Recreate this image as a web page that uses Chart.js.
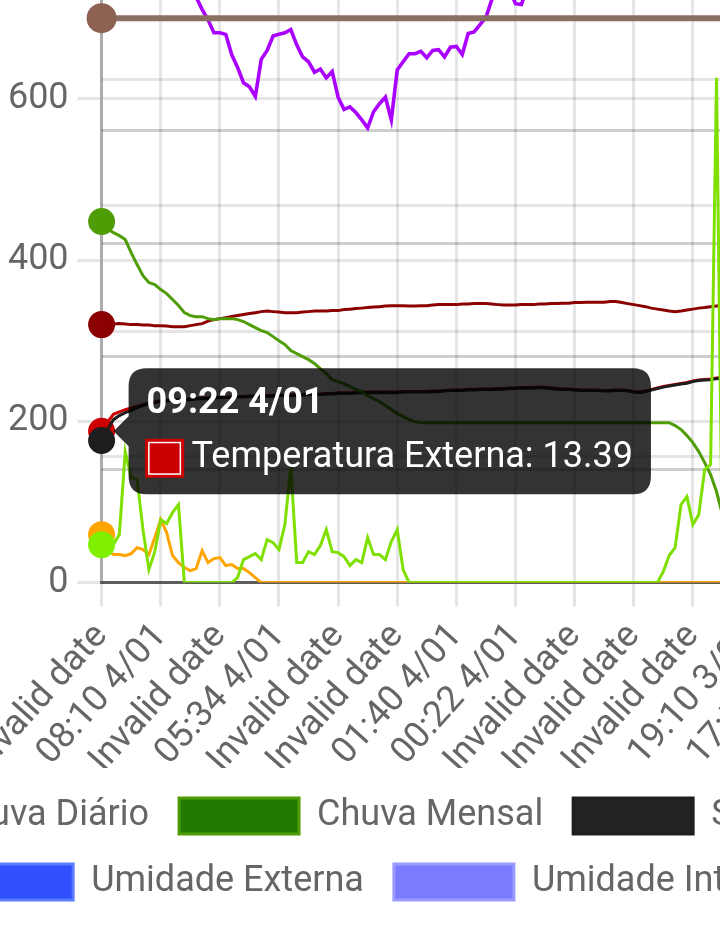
<!DOCTYPE html>
<html><head><meta charset="utf-8">
<script src="https://cdn.jsdelivr.net/npm/chart.js@4.4.1/dist/chart.umd.min.js"></script>
<style>
html,body{margin:0;padding:0;overflow:hidden;background:#fff;width:720px;height:949px;}
#wrap{position:absolute;left:-235.5px;top:-92.6px;width:760px;height:341px;transform:scale(3);transform-origin:0 0;}
</style></head><body>
<div id="wrap"><canvas id="c" width="760" height="341"></canvas></div>
<script>
const tickLabels = ["Invalid date","08:10 4/01","Invalid date","05:34 4/01","Invalid date","Invalid date","01:40 4/01","00:22 4/01","Invalid date","Invalid date","Invalid date","19:10 3/01","17:52 3/01"];
const readingTimes = ["09:22 4/01","08:10 4/01","06:52 4/01","05:34 4/01","04:16 4/01","02:58 4/01","01:40 4/01","00:22 4/01","23:04 3/01","21:46 3/01","20:28 3/01","19:10 3/01","17:52 3/01"];
const READINGS_PER_TICK = 10;

const chuvaDiario = [47.1,43.4,47.1,59.5,162.4,130.2,127.7,65.7,16.1,38.4,
78.1,73.2,86.8,96.7,0,0,0,0,0,0,
0,0,0,6.2,28.5,32.2,36.0,28.5,53.3,49.6,
40.9,71.9,143.8,24.8,24.8,38.4,34.7,45.9,65.7,38.4,
37.2,32.2,21.1,28.5,24.8,55.8,34.7,34.7,28.5,50.8,
65.7,16.1,0,0,0,0,0,0,0,0,
0,0,0,0,0,0,0,0,0,0,
0,0,0,0,0,0,0,0,0,0,
0,0,0,0,0,0,0,0,0,0,
0,0,0,0,0,13.6,33.5,43.4,96.7,106.6,
71.9,84.3,140.1,146.3,626.2,28.5,53.3,47.0,40.0,35.0,
30.0,22.0,15.0,10.0,5.0,0,0,0,0,0,0];

const chuvaMensal = [28.71,28.15,27.83,27.59,27.28,26.24,25.29,24.41,23.86,23.70,
23.30,22.98,22.51,22.03,21.47,21.23,21.15,21.15,20.99,20.91,
20.99,20.99,20.99,20.91,20.76,20.52,20.28,20.04,19.88,19.56,
19.24,18.93,18.45,18.21,17.97,17.73,17.42,17.02,16.62,16.14,
15.98,15.82,15.59,15.35,15.19,14.87,14.63,14.39,14.08,13.76,
13.44,13.20,12.96,12.80,12.72,12.72,12.72,12.72,12.72,12.72,
12.72,12.72,12.72,12.72,12.72,12.72,12.72,12.72,12.72,12.72,
12.72,12.72,12.72,12.72,12.72,12.72,12.72,12.72,12.72,12.72,
12.72,12.72,12.72,12.72,12.72,12.72,12.72,12.72,12.72,12.72,
12.72,12.72,12.72,12.72,12.72,12.72,12.72,12.49,12.17,11.69,
11.13,10.42,9.54,8.59,7.24,5.41,3.42,1.43,0.40,0,
0,0,0,0,0,0,0,0,0,0,0];

const sensacaoTermica = [12.57,13.54,14.42,14.78,15.04,15.22,15.49,15.66,15.84,15.93,
16.02,16.06,16.11,16.15,16.19,16.19,16.24,16.28,16.28,16.33,
16.37,16.37,16.37,16.42,16.42,16.46,16.46,16.46,16.50,16.50,
16.55,16.55,16.55,16.59,16.59,16.64,16.64,16.64,16.68,16.68,
16.73,16.73,16.73,16.77,16.81,16.81,16.81,16.81,16.81,16.81,
16.81,16.86,16.86,16.86,16.86,16.86,16.90,16.90,16.95,16.99,
16.99,16.99,17.04,17.04,17.08,17.08,17.08,17.12,17.12,17.17,
17.17,17.21,17.21,17.21,17.26,17.21,17.17,17.12,17.08,17.08,
17.04,16.99,16.99,16.99,16.99,16.95,16.95,16.99,16.99,16.95,
16.86,16.81,16.90,17.04,17.17,17.30,17.39,17.48,17.57,17.65,
17.79,17.88,17.92,17.96,18.05,18.10,18.14,18.19,18.23,18.23,
18.27,18.30,18.32,18.35,18.37,18.40,18.42,18.45,18.47,18.50,18.52];

const temperaturaExterna = [13.39,14.20,14.90,15.10,15.30,15.45,15.60,15.75,15.90,16.00,
16.08,16.12,16.17,16.21,16.25,16.25,16.30,16.34,16.34,16.39,
16.43,16.43,16.43,16.48,16.48,16.52,16.52,16.52,16.56,16.56,
16.61,16.61,16.61,16.65,16.65,16.70,16.70,16.70,16.74,16.74,
16.79,16.79,16.79,16.83,16.87,16.87,16.87,16.87,16.87,16.87,
16.87,16.92,16.92,16.92,16.92,16.92,16.96,16.96,17.01,17.05,
17.05,17.05,17.10,17.10,17.14,17.14,17.14,17.18,17.18,17.23,
17.23,17.27,17.27,17.27,17.32,17.27,17.23,17.18,17.14,17.14,
17.10,17.05,17.05,17.05,17.05,17.01,17.01,17.05,17.05,17.01,
16.92,16.87,16.96,17.10,17.23,17.36,17.45,17.54,17.63,17.71,
17.85,17.94,17.98,18.02,18.11,18.16,18.20,18.25,18.29,18.29,
18.33,18.36,18.38,18.41,18.43,18.46,18.48,18.51,18.53,18.56,18.58];

const temperaturaInterna = [22.83,22.83,22.88,22.92,22.88,22.83,22.83,22.79,22.79,22.74,
22.74,22.70,22.65,22.65,22.65,22.74,22.83,22.92,23.14,23.27,
23.36,23.45,23.54,23.63,23.72,23.81,23.89,23.98,24.03,23.98,
23.94,23.89,23.89,23.89,23.94,23.98,24.03,24.03,24.03,24.07,
24.07,24.16,24.20,24.25,24.29,24.34,24.38,24.42,24.47,24.51,
24.51,24.51,24.47,24.47,24.51,24.51,24.56,24.60,24.60,24.60,
24.60,24.65,24.65,24.69,24.69,24.69,24.65,24.60,24.56,24.56,
24.56,24.60,24.60,24.60,24.65,24.65,24.69,24.69,24.73,24.73,
24.78,24.78,24.82,24.82,24.82,24.82,24.87,24.87,24.78,24.69,
24.60,24.51,24.42,24.29,24.20,24.12,24.03,23.98,24.03,24.12,
24.20,24.29,24.34,24.42,24.47,24.51,24.51,24.56,24.56,24.60,
24.60,24.65,24.65,24.69,24.69,24.73,24.73,24.78,24.78,24.82,24.82];

const umidadeExterna = [96,96,96,97,97,97,97,97,97,97,
97,97,97,98,98,98,98,98,98,98,
98,98,98,98,98,98,98,98,98,98,
98,98,98,98,98,97,97,97,97,97,
97,97,97,97,97,97,97,97,97,97,
97,97,97,97,96,96,96,96,96,96,
96,96,96,96,96,96,96,96,96,96,
96,96,96,96,96,97,97,97,97,97,
97,97,97,97,97,97,97,97,97,97,
97,97,97,97,96,96,96,96,96,96,
96,96,96,96,97,97,97,97,97,97,
97,97,97,97,97,97,97,97,97,97,97];

const umidadeInterna = [94,94,94,94,94,94,94,94,94,94,
94,94,94,94,94,95,95,95,95,95,
95,95,95,95,95,95,95,95,95,95,
95,95,95,95,95,95,95,95,95,95,
95,95,95,95,95,95,95,95,95,95,
95,95,95,95,95,95,95,95,95,95,
95,95,95,95,95,95,95,95,95,95,
94,94,94,94,94,94,94,94,94,94,
94,94,94,94,94,94,94,94,94,94,
94,94,94,94,94,94,94,94,94,94,
94,94,94,94,94,94,94,94,94,94,
94,94,94,94,94,94,94,94,94,94,94];

const indiceUV = [59.5,40.9,34.7,34.7,33.5,36.0,43.4,40.9,34.7,55.8,
78.1,62.0,33.5,24.8,18.6,14.9,17.4,39.7,24.8,29.8,
31.0,21.1,22.3,17.4,17.4,12.4,6.2,0,0,0,
0,0,0,0,0,0,0,0,0,0,
0,0,0,0,0,0,0,0,0,0,
0,0,0,0,0,0,0,0,0,0,
0,0,0,0,0,0,0,0,0,0,
0,0,0,0,0,0,0,0,0,0,
0,0,0,0,0,0,0,0,0,0,
0,0,0,0,0,0,0,0,0,0,
0,0,0,0,0,0,0,0,0,0,
0,0,0,0,0,0,0,0,0,0,0];

const pressao = [700,700,700,700,700,700,700,700,700,700,
700,700,700,700,700,700,700,700,700,700,
700,700,700,700,700,700,700,700,700,700,
700,700,700,700,700,700,700,700,700,700,
700,700,700,700,700,700,700,700,700,700,
700,700,700,700,700,700,700,700,700,700,
700,700,700,700,700,700,700,700,700,700,
700,700,700,700,700,700,700,700,700,700,
700,700,700,700,700,700,700,700,700,700,
700,700,700,700,700,700,700,700,700,700,
700,700,700,700,700,700,700,700,700,700,
700,700,700,700,700,700,700,700,700,700,700];

const direcaoVento = [772,775,778,776,780,777,774,770,767,764,
762,760,765,760,752,740,726,711,698,682,
682,680,655,639,620,615,603,649,660,678,
680,682,686,667,652,646,633,637,626,634,
602,587,590,583,574,564,584,594,602,574,
636,646,656,656,659,651,660,661,652,664,
665,655,681,683,692,701,723,742,748,736,
718,717,738,748,752,756,760,758,763,768,
771,774,776,773,770,768,772,776,780,783,
785,783,780,778,775,772,770,768,765,762,
760,758,755,752,750,748,752,756,760,763,
766,768,771,773,775,777,779,780,781,782,783];

const categories = chuvaDiario.map((_, i) => i % READINGS_PER_TICK === 0 ? tickLabels[i / READINGS_PER_TICK] : '');

Chart.defaults.font.family = 'Roboto';
Chart.defaults.font.size = 12;
Chart.defaults.color = '#666';

function ds(label, data, border, bg, axis, extra) {
  return Object.assign({
    label, data, borderColor: border, backgroundColor: bg, yAxisID: axis,
    borderWidth: 1, fill: false, tension: 0,
    pointBackgroundColor: border, pointBorderColor: border,
    pointRadius: c => c.dataIndex === 0 ? 4 : 0, pointHoverRadius: 4
  }, extra || {});
}

const datasets = [
  ds('Chuva Diário', chuvaDiario, '#7fe000', '#7ff000', 'yA', {pointBackgroundColor: '#7ff000', pointBorderColor: '#7ff000'}),
  ds('Chuva Mensal', chuvaMensal, '#4f9d06', '#237a00', 'yC'),
  ds('Sensação Térmica', sensacaoTermica, '#1e1e1e', '#222222', 'yB'),
  ds('Temperatura Externa', temperaturaExterna, '#cc0000', '#c00000', 'yB'),
  ds('Temperatura Interna', temperaturaInterna, '#8b0000', '#8b0000', 'yB'),
  ds('Umidade Externa', umidadeExterna, '#5c7cff', '#304ffe', 'yH'),
  ds('Umidade Interna', umidadeInterna, '#9a9aff', '#7b7bff', 'yH'),
  ds('Índice UV', indiceUV, '#ffa500', '#ffa500', 'yA'),
  ds('Pressão', pressao, '#8a6e64', '#8d6e63', 'yA', {borderWidth: 2, pointBackgroundColor: '#8d6252', pointBorderColor: '#8d6252'}),
  ds('Direção do Vento', direcaoVento, '#aa00ff', '#aa00ff', 'yA', {borderWidth: 1.2})
];

const fixW = w => (s => { s.width = w; });

const chart = new Chart(document.getElementById('c'), {
  type: 'line',
  data: { labels: categories, datasets },
  options: {
    responsive: false, devicePixelRatio: 3,
    animation: false, events: [],
    layout: { padding: 0 },
    scales: {
      x: {
        type: 'category',
        grid: { tickLength: 8 },
        border: { color: 'rgba(0,0,0,0.45)' },
        ticks: { autoSkip: false, minRotation: 48, maxRotation: 48,
          callback: function(v) { const l = this.getLabelForValue(v); return l === '' ? null : l; } },
        afterFit: s => { s.height = 61.8; }
      },
      yA: { position: 'left', min: 0, max: 800, ticks: { stepSize: 200 },
        border: { color: 'rgba(0,0,0,0.25)' }, afterFit: fixW(112.2) },
      yB: { position: 'right', min: 0, max: 57.08, ticks: { stepSize: 10 }, afterFit: fixW(40) },
      yB2: { position: 'right', min: 0, max: 57.08, ticks: { stepSize: 10 }, afterFit: fixW(40) },
      yC: { position: 'right', min: 0, max: 51.29, ticks: { stepSize: 10 }, afterFit: fixW(40) },
      yH: { position: 'right', min: 0, max: 100, grid: { display: false }, afterFit: fixW(291.3) }
    },
    plugins: {
      legend: { position: 'bottom', labels: { boxWidth: 40, padding: 10, color: '#666', font: { size: 12 } } },
      tooltip: {
        backgroundColor: 'rgba(0,0,0,0.8)', padding: 6, caretSize: 5, caretPadding: 4, cornerRadius: 6,
        titleFont: { weight: 'bold', size: 12, lineHeight: 1 }, bodyFont: { size: 12, lineHeight: 1 },
        titleMarginBottom: 6, boxPadding: 1,
        callbacks: { title: items => readingTimes[items[0].dataIndex / READINGS_PER_TICK] }
      }
    }
  }
});
chart.tooltip.setActiveElements([{ datasetIndex: 3, index: 0 }], { x: 0, y: 0 });
chart.update();
</script>
</body></html>
